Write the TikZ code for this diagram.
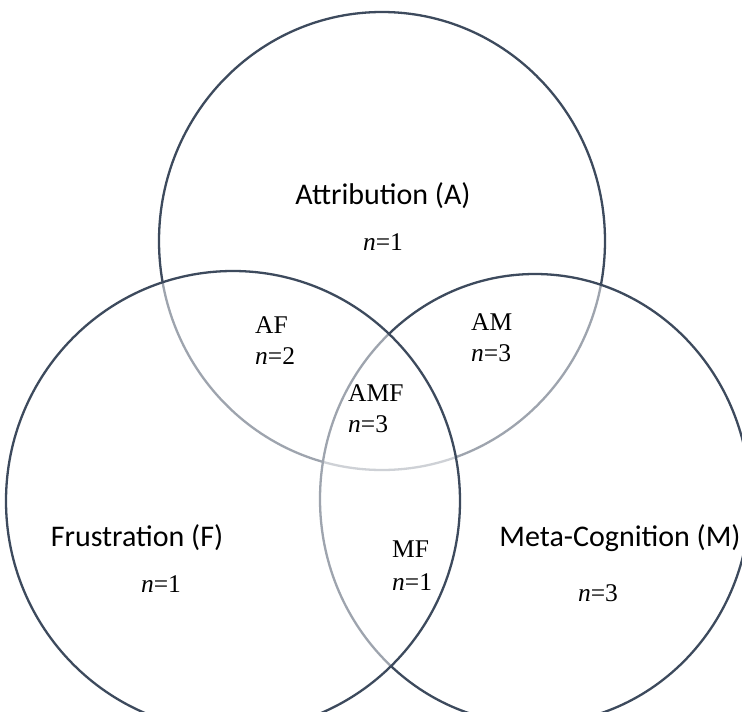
\documentclass[tikz,border=0pt]{standalone}
\usepackage{fontspec}
\setmainfont{Liberation Serif}
\newfontfamily\lblfont{Carlito}
\definecolor{ring}{HTML}{3D4A5D}
\tikzset{
  setring/.style={draw=ring, line width=2.3pt, fill=white, fill opacity=0.5},
  setname/.style={font=\lblfont\fontsize{30}{33}\selectfont, text=black, inner sep=0pt},
  cnt/.style={font=\fontsize{25.5}{28}\selectfont, text=black, inner sep=0pt, anchor=west},
}
\begin{document}
\begin{tikzpicture}[x=1pt,y=-1pt]
\useasboundingbox (0,0) rectangle (742,712);
\clip (0,0) rectangle (742,712);
\fill[white] (0,0) rectangle (742,712);
% A, then M, then F (each covers the lines below it)
\path[setring] (382,241) ellipse [x radius=223, y radius=229];
\path[setring] (535,499) ellipse [x radius=215, y radius=225];
\path[setring] (233,501) ellipse [x radius=227, y radius=230];
% set names
\node[setname] (nA) at (383,196) {Attribution (A)};
\node[setname] (nF) at (137,538) {Frustration (F)};
\node[setname] (nM) at (620,538) {Meta-Cognition (M)};
% counts
\node[cnt, anchor=center] (cA) at (383,242) {\textit{n}=1};
\node[cnt, anchor=center] (cF) at (161,584) {\textit{n}=1};
\node[cnt, anchor=center] (cM) at (598,593) {\textit{n}=3};
\node[cnt] (tAF) at (255,325) {AF};
\node[cnt] (cAF) at (255,356) {\textit{n}=2};
\node[cnt] (tAM) at (471,322) {AM};
\node[cnt] (cAM) at (471,353) {\textit{n}=3};
\node[cnt] (tAMF) at (348,393) {AMF};
\node[cnt] (cAMF) at (348,424) {\textit{n}=3};
\node[cnt] (tMF) at (392,549) {MF};
\node[cnt] (cMF) at (392,582) {\textit{n}=1};
\end{tikzpicture}
\end{document}
